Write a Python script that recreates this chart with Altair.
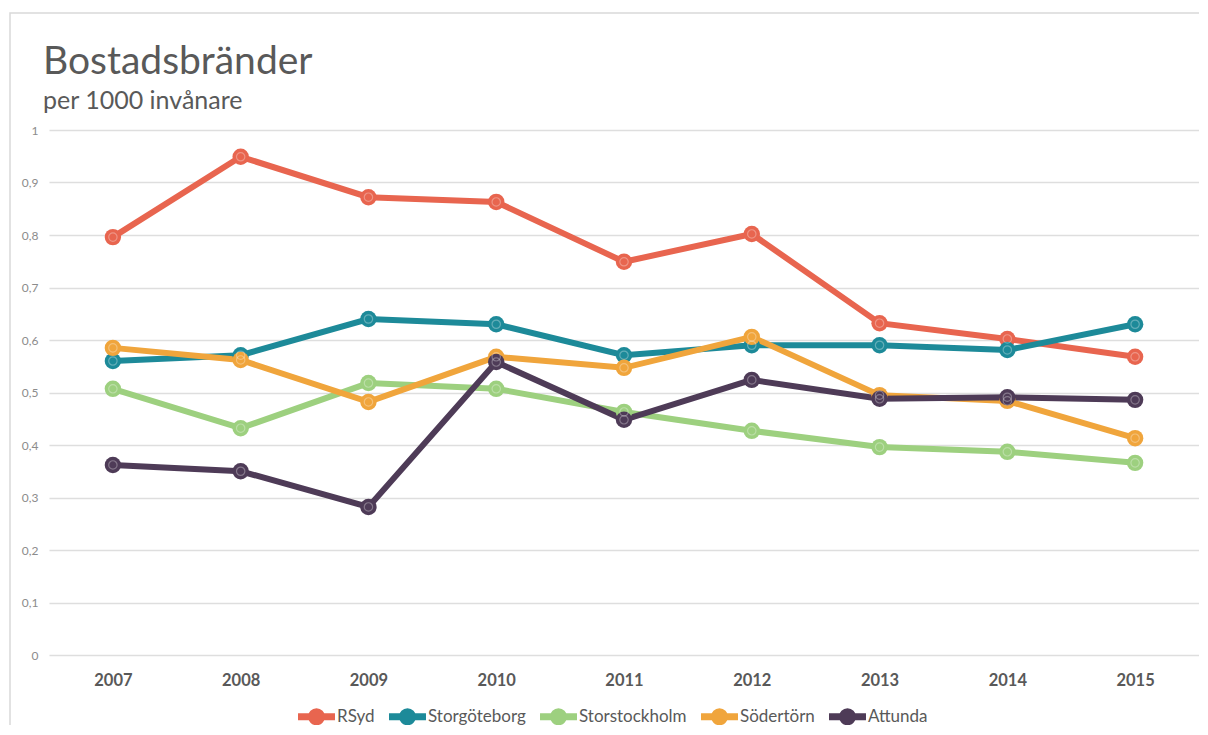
import altair as alt
import pandas as pd

years = ["2007", "2008", "2009", "2010", "2011", "2012", "2013", "2014", "2015"]
series = ["RSyd", "Storgöteborg", "Storstockholm", "Södertörn", "Attunda"]
colors = ["#E8654F", "#1D8A99", "#9DD07F", "#F0A53C", "#4E3B57"]

rsyd = [0.796, 0.949, 0.872, 0.863, 0.749, 0.802, 0.632, 0.602, 0.568]
storgoteborg = [0.560, 0.571, 0.640, 0.630, 0.571, 0.590, 0.590, 0.581, 0.630]
storstockholm = [0.507, 0.432, 0.518, 0.507, 0.463, 0.427, 0.396, 0.387, 0.366]
sodertorn = [0.585, 0.562, 0.482, 0.568, 0.547, 0.606, 0.495, 0.484, 0.413]
attunda = [0.362, 0.350, 0.282, 0.558, 0.448, 0.524, 0.488, 0.491, 0.486]

title_text = "Bostadsbränder"
subtitle_text = "per 1000 invånare"

values = [rsyd, storgoteborg, storstockholm, sodertorn, attunda]
rows = []
for name, vals in zip(series, values):
    for y, v in zip(years, vals):
        rows.append({"År": y, "Område": name, "Värde": v})
df = pd.DataFrame(rows)

FONT = "Lato"
TEXT = "#595959"

x_enc = alt.X("År:O", scale=alt.Scale(type="point", padding=0.5),
              axis=alt.Axis(title=None, labelAngle=0, labelFontSize=16.5, labelFontWeight="bold",
                            labelColor=TEXT, labelFont=FONT, domain=False, ticks=False,
                            labelPadding=17, grid=False))
y_enc = alt.Y("Värde:Q", scale=alt.Scale(domain=[0, 1], nice=False),
              axis=alt.Axis(title=None, values=[round(i * 0.1, 1) for i in range(11)],
                            labelExpr="replace(format(datum.value, '.1~f'), '.', ',')",
                            labelFontSize=12, labelColor="#8c8c8c", labelFont=FONT,
                            domain=False, ticks=False, labelPadding=11,
                            grid=True, gridColor="#dedede", gridWidth=1.5))
color_enc = alt.Color("Område:N", scale=alt.Scale(domain=series, range=colors),
                      sort=series,
                      legend=alt.Legend(title=None, orient="none", direction="horizontal",
                                        legendX=257, legendY=576,
                                        symbolType="M-2.64,0 H2.64 M0.72,0 A0.72,0.72 0 1,1 -0.72,0 A0.72,0.72 0 1,1 0.72,0 Z",
                                        symbolSize=196, symbolStrokeWidth=7, symbolOpacity=1,
                                        labelFont=FONT, labelFontSize=17, labelColor=TEXT,
                                        labelOffset=10, columnPadding=0))

base = alt.Chart(df).encode(x=x_enc, y=y_enc, color=color_enc)
lines = base.mark_line(strokeWidth=6)
points = base.mark_point(filled=True, size=270, opacity=1)
rings = base.mark_point(filled=False, size=70, stroke="white", strokeWidth=1.2,
                        opacity=0.3).encode(color=alt.value("white"))

one = alt.Data(values=[{"t": title_text, "s": subtitle_text}])
frame = alt.Chart(one).mark_rect(
    filled=False, stroke="#d9d9d9", strokeWidth=1.5
).encode(x=alt.value(-39), x2=alt.value(1200), y=alt.value(-117), y2=alt.value(640))
title = alt.Chart(one).mark_text(
    align="left", baseline="alphabetic", font=FONT, fontSize=39, color=TEXT
).encode(text="t:N", x=alt.value(-6), y=alt.value(-56))
subtitle = alt.Chart(one).mark_text(
    align="left", baseline="alphabetic", font=FONT, fontSize=25, color=TEXT
).encode(text="s:N", x=alt.value(-6), y=alt.value(-21))

chart = alt.layer(frame, title, subtitle, lines, points, rings).properties(
    width=1150, height=525,
    autosize=alt.AutoSizeParams(type="none"),
    padding={"left": 41, "top": 122, "right": 0, "bottom": 70},
).configure_view(stroke=None)

chart.save("out.html", embed_options={"renderer": "svg", "actions": False})
